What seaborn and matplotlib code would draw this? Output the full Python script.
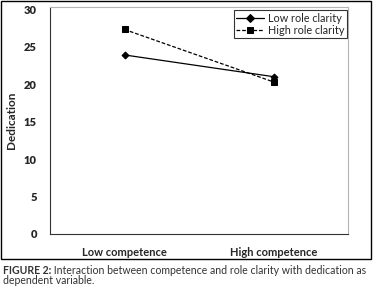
import pandas as pd
import matplotlib.pyplot as plt
import matplotlib.patches as mpatches
import seaborn as sns

# data
competence = ["Low competence", "High competence"]
low_clarity = [23.9, 21.0]
high_clarity = [27.3, 20.3]
groups = ["Low role clarity", "High role clarity"]

df = pd.DataFrame({
    "competence": competence * 2,
    "dedication": low_clarity + high_clarity,
    "group": [groups[0]] * 2 + [groups[1]] * 2,
})
df["x"] = df["competence"].map({c: i for i, c in enumerate(competence)})

sns.set_style("white")
plt.rcParams["font.family"] = ["Lato", "DejaVu Sans"]

fig = plt.figure(figsize=(3.73, 2.91), dpi=100)
ax = fig.add_axes([50 / 373, 1 - 234 / 291, 298 / 373, 227 / 291])

sns.lineplot(data=df, x="x", y="dedication", hue="group", style="group",
             hue_order=groups, style_order=groups,
             palette=["black", "black"], markers=["D", "s"],
             dashes=["", (3, 1.5)], markersize=4, linewidth=0.9,
             markeredgecolor="black", ax=ax)
for line, ms in zip(ax.lines, [3.5, 5]):
    line.set_markersize(ms)

ax.set_xlim(-0.5, 1.5)
ax.set_ylim(0, 30.3)
ax.set_yticks(range(0, 31, 5))
ax.set_xticks([0, 1])
ax.set_xticklabels(competence, fontsize=8, fontweight="bold")
ax.set_xticks([-0.5, 0.5, 1.5], minor=True)
ax.tick_params(axis="x", which="major", length=0, pad=9)
ax.tick_params(axis="x", which="minor", length=3.5, width=0.6, color="#444444")
ax.tick_params(axis="y", length=3.5, width=0.6, labelsize=8, pad=6, color="#444444")
for lab in ax.get_yticklabels():
    lab.set_fontweight("heavy")
ax.set_xlabel("")
ax.set_ylabel("Dedication", fontsize=8.5, fontweight="bold", labelpad=5)

for side in ["left", "bottom"]:
    ax.spines[side].set_color("#333333")
    ax.spines[side].set_linewidth(0.8)
for side in ["top", "right"]:
    ax.spines[side].set_color("#b5b5b5")
    ax.spines[side].set_linewidth(0.8)

handles, labels = ax.get_legend_handles_labels()
leg = ax.legend(handles, labels, loc="upper right", bbox_to_anchor=(0.997, 0.985),
                frameon=True, fancybox=False, fontsize=7.8, handlelength=2.6,
                handletextpad=0.4, borderpad=0.2, labelspacing=0.1,
                borderaxespad=0)
leg.get_frame().set_edgecolor("black")
leg.get_frame().set_linewidth(0.8)

# outer frame around the chart
fig.patches.append(mpatches.Rectangle((1 / 373, 1 - 259 / 291), 370 / 373, 258 / 291,
                                      transform=fig.transFigure, fill=False,
                                      edgecolor="black", linewidth=1.0))

# caption
cap = fig.text(3 / 373, 1 - 270 / 291, "FIGURE 2:", fontsize=7.6, fontweight="bold",
               color="#333333", va="center")
ax.annotate(" Interaction between competence and role clarity with dedication as",
            xy=(1, 0.5), xycoords=cap, va="center", ha="left",
            fontsize=7.6, color="#333333", annotation_clip=False)
fig.text(3 / 373, 1 - 281 / 291, "dependent variable.", fontsize=7.6,
         color="#333333", va="center")

fig.savefig("out.png", dpi=100)
